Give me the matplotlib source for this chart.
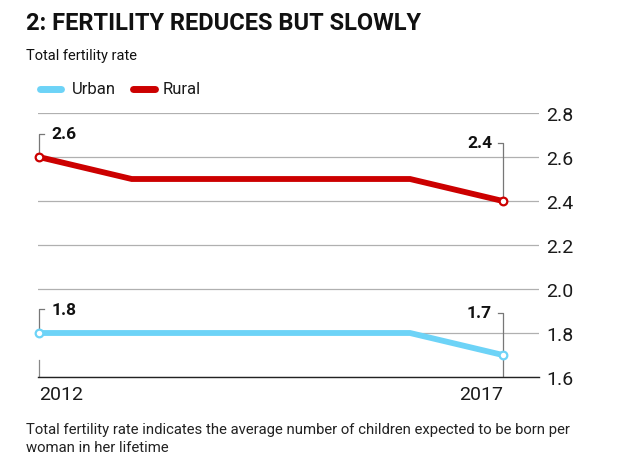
import matplotlib
matplotlib.use("Agg")
import matplotlib.pyplot as plt

plt.rcParams['font.family'] = ['Roboto', 'DejaVu Sans']

years = [2012, 2013, 2014, 2015, 2016, 2017]
rural = [2.6, 2.5, 2.5, 2.5, 2.5, 2.4]
urban = [1.8, 1.8, 1.8, 1.8, 1.8, 1.7]
yticks = [1.6, 1.8, 2.0, 2.2, 2.4, 2.6, 2.8]
ytick_labels = ['1.6', '1.8', '2.0', '2.2', '2.4', '2.6', '2.8']

RED = '#cc0000'
BLUE = '#6dd3f7'

fig = plt.figure(figsize=(6.2, 4.64), dpi=100)
ax = fig.add_axes([38 / 620, 1 - 378 / 464, (539 - 38) / 620, (378 - 114) / 464])

for vals, col in [(rural, RED), (urban, BLUE)]:
    ax.plot(years, vals, color=col, lw=4.2, solid_joinstyle='miter', zorder=3, clip_on=False)
    ax.plot([years[0], years[-1]], [vals[0], vals[-1]], 'o', ms=5.5, mfc='white',
            mec=col, mew=1.6, zorder=4, clip_on=False)

ax.set_xlim(2011.99, 2017.39)
ax.set_ylim(1.6, 2.8)
ax.set_yticks(yticks)
ax.set_yticklabels(ytick_labels)
ax.yaxis.tick_right()
ax.tick_params(axis='y', length=0, pad=5, labelsize=14, labelcolor='#1a1a1a')
ax.grid(axis='y', color='#b0b0b0', lw=0.9)
ax.set_axisbelow(True)
for s in ['top', 'left', 'right']:
    ax.spines[s].set_visible(False)
ax.spines['bottom'].set_color('#222222')
ax.spines['bottom'].set_linewidth(1.0)

ax.set_xticks([years[0], years[-1]])
ax.set_xticklabels([str(years[0]), str(years[-1])])
ax.tick_params(axis='x', length=0, pad=6, labelsize=14, labelcolor='#1a1a1a')
xl = ax.get_xticklabels()
xl[0].set_ha('left')
xl[1].set_ha('right')

# small tick at the start year
ax.plot([years[0], years[0]], [1.6, 1.677], color='#888888', lw=0.9, zorder=2)

# value callouts with brackets
arm = 0.055
callouts = [
    (years[0], rural[0], 2.705, 'left'),
    (years[-1], rural[-1], 2.664, 'right'),
    (years[0], urban[0], 1.909, 'left'),
    (years[-1], urban[-1], 1.891, 'right'),
]
for x, v, ly, side in callouts:
    bottom = 1.6 if (x == years[-1] and v == urban[-1]) else v
    if side == 'left':
        ax.plot([x, x, x + arm], [bottom, ly, ly], color='#777777', lw=0.9, zorder=2)
        ax.text(x + arm + 0.08, ly, f'{v:.1f}', ha='left', va='center',
                fontsize=12.5, fontweight='bold', color='#111111')
    else:
        ax.plot([x - arm, x, x], [ly, ly, bottom], color='#777777', lw=0.9, zorder=2)
        ax.text(x - arm - 0.06, ly, f'{v:.1f}', ha='right', va='center',
                fontsize=12.5, fontweight='bold', color='#111111')

fig.text(26 / 620, 1 - 23 / 464, '2: FERTILITY REDUCES BUT SLOWLY', ha='left', va='center',
         fontsize=17, fontweight='bold', color='#111111')
fig.text(26 / 620, 1 - 56 / 464, 'Total fertility rate', ha='left', va='center',
         fontsize=10.5, color='#111111')

# legend
fig.add_artist(plt.Line2D([40 / 620, 61 / 620], [1 - 90 / 464] * 2, color=BLUE, lw=5,
                          solid_capstyle='round'))
fig.text(72 / 620, 1 - 90 / 464, 'Urban', ha='left', va='center', fontsize=12,
         color='#1a1a1a')
fig.add_artist(plt.Line2D([133 / 620, 155 / 620], [1 - 90 / 464] * 2, color=RED, lw=5,
                          solid_capstyle='round'))
fig.text(163 / 620, 1 - 90 / 464, 'Rural', ha='left', va='center', fontsize=12,
         color='#1a1a1a')

fig.text(26 / 620, 1 - 430 / 464,
         'Total fertility rate indicates the average number of children expected to be born per',
         ha='left', va='center', fontsize=10.7, color='#222222')
fig.text(26 / 620, 1 - 448 / 464, 'woman in her lifetime',
         ha='left', va='center', fontsize=10.7, color='#222222')

fig.savefig('out.png', dpi=100)
